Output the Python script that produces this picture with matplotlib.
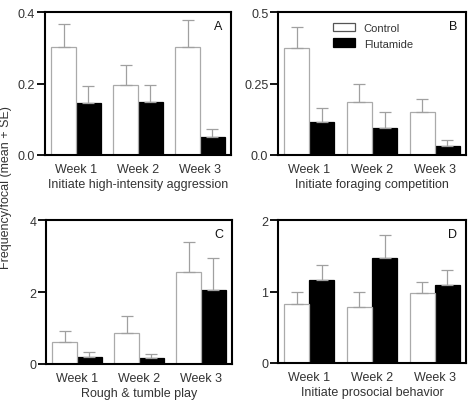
import matplotlib
matplotlib.use("Agg")
import matplotlib.pyplot as plt
import numpy as np

plt.rcParams['font.family'] = ['Liberation Sans', 'DejaVu Sans']

weeks = ["Week 1", "Week 2", "Week 3"]

# Panel A: Initiate high-intensity aggression
a_control = [0.303, 0.197, 0.303]
a_control_se = [0.063, 0.055, 0.074]
a_flut = [0.145, 0.148, 0.050]
a_flut_se = [0.047, 0.049, 0.023]

# Panel B: Initiate foraging competition
b_control = [0.375, 0.187, 0.149]
b_control_se = [0.072, 0.060, 0.047]
b_flut = [0.114, 0.096, 0.032]
b_flut_se = [0.049, 0.055, 0.022]

# Panel C: Rough & tumble play
c_control = [0.60, 0.85, 2.56]
c_control_se = [0.33, 0.49, 0.82]
c_flut = [0.185, 0.167, 2.05]
c_flut_se = [0.135, 0.10, 0.89]

# Panel D: Initiate prosocial behavior
d_control = [0.83, 0.79, 0.975]
d_control_se = [0.17, 0.20, 0.155]
d_flut = [1.155, 1.475, 1.086]
d_flut_se = [0.215, 0.315, 0.209]

panels = [
    dict(ctrl=a_control, cse=a_control_se, flut=a_flut, fse=a_flut_se,
         ylim=0.4, yticks=[0.0, 0.2, 0.4], yticklabels=["0.0", "0.2", "0.4"],
         xlabel="Initiate high-intensity aggression", letter="A",
         pos=[45/469, 1-156/414, 186/469, 143/414]),
    dict(ctrl=b_control, cse=b_control_se, flut=b_flut, fse=b_flut_se,
         ylim=0.5, yticks=[0.0, 0.25, 0.5], yticklabels=["0.0", "0.25", "0.5"],
         xlabel="Initiate foraging competition", letter="B",
         pos=[278/469, 1-156/414, 188/469, 143/414]),
    dict(ctrl=c_control, cse=c_control_se, flut=c_flut, fse=c_flut_se,
         ylim=4, yticks=[0, 2, 4], yticklabels=["0", "2", "4"],
         xlabel="Rough & tumble play", letter="C",
         pos=[46/469, 1-365/414, 186/469, 144/414]),
    dict(ctrl=d_control, cse=d_control_se, flut=d_flut, fse=d_flut_se,
         ylim=2, yticks=[0, 1, 2], yticklabels=["0", "1", "2"],
         xlabel="Initiate prosocial behavior", letter="D",
         pos=[278/469, 1-364/414, 188/469, 143/414]),
]

fig = plt.figure(figsize=(4.69, 4.14), dpi=100)
x = np.arange(len(weeks))
w = 0.4
txtcol = "#333333"

for i, p in enumerate(panels):
    ax = fig.add_axes(p["pos"])
    n = len(weeks)
    ax.bar(x - w/2, p["ctrl"], w, color="white", edgecolor="#aaaaaa", linewidth=0.9,
           yerr=[np.zeros(n), p["cse"]], capsize=4,
           error_kw=dict(ecolor="#a0a0a0", elinewidth=0.9, capthick=0.9),
           label="Control", zorder=2)
    ax.bar(x + w/2, p["flut"], w, color="black", edgecolor="black", linewidth=0.9,
           yerr=[np.zeros(n), p["fse"]], capsize=4,
           error_kw=dict(ecolor="#a0a0a0", elinewidth=0.9, capthick=0.9),
           label="Flutamide", zorder=1)
    ax.set_xlim(-0.5, 2.5)
    ax.set_ylim(0, p["ylim"])
    ax.set_yticks(p["yticks"])
    ax.set_yticklabels(p["yticklabels"])
    ax.set_xticks(x)
    ax.set_xticklabels(weeks)
    ax.tick_params(axis="x", length=0, pad=6, labelsize=9, labelcolor=txtcol)
    ax.tick_params(axis="y", length=6, width=1.3, pad=1, labelsize=9, labelcolor=txtcol)
    for s in ax.spines.values():
        s.set_linewidth(1.5)
    ax.set_xlabel(p["xlabel"], fontsize=9, color=txtcol, labelpad=2)
    ax.text(0.93, 0.90, p["letter"], transform=ax.transAxes, fontsize=9,
            ha="center", va="center", color="#111111")
    if i == 1:
        ax.legend(loc="upper left", bbox_to_anchor=(0.293, 0.925), frameon=False,
                  fontsize=8, handlelength=2.0, handleheight=0.8, labelspacing=0.5,
                  handletextpad=0.75, borderaxespad=0, borderpad=0)
        leg = ax.get_legend()
        for t in leg.get_texts():
            t.set_color(txtcol)
        leg.legend_handles[0].set_edgecolor("#555555")

fig.text(0.012, 1 - 188/414, "Frequency/focal (mean + SE)", rotation=90, ha="center",
         va="center", fontsize=9, color=txtcol)

fig.savefig("out.png", dpi=100)
